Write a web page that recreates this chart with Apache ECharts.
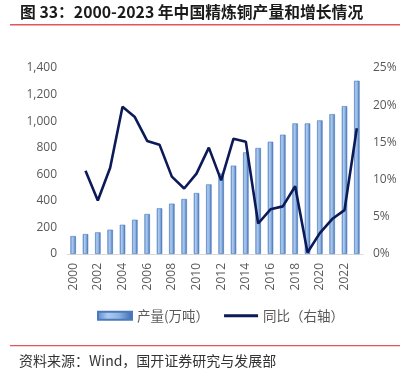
<!DOCTYPE html>
<html>
<head>
<meta charset="utf-8">
<script src="https://cdn.jsdelivr.net/npm/echarts@6/dist/echarts.min.js"></script>
<style>html,body{margin:0;padding:0;background:#fff}#c{width:406px;height:369px}</style>
</head>
<body>
<div id="c"></div>
<script>
const years = ['2000','2001','2002','2003','2004','2005','2006','2007','2008','2009','2010','2011','2012','2013','2014','2015','2016','2017','2018','2019','2020','2021','2022','2023'];
const output = [135,150,163,183,220,258,301,344,379,414,459,524,606,665,765,798,845,898,983,983,1006,1053,1113,1304];
const yoy = [null,11.2,7.2,11.6,19.8,18.4,15.2,14.7,10.4,8.8,10.8,14.3,9.9,15.5,15.1,4.1,6.0,6.4,9.1,0.2,2.8,4.7,5.9,16.9];
const leftTicks = {min:0, max:1400, interval:200};
const rightTicks = {min:0, max:25, interval:5};
const titleText = '图 33：2000-2023 年中国精炼铜产量和增长情况';
const sourceText = '资料来源：Wind，国开证券研究与发展部';
const seriesNames = ['产量(万吨）','同比（右轴）'];

const chart = echarts.init(document.getElementById('c'), null, {renderer:'canvas'});
const barGrad = new echarts.graphic.LinearGradient(0,0,1,0,[
  {offset:0,color:'#5a88c8'},
  {offset:0.3,color:'#aecbee'},
  {offset:0.6,color:'#90b4e2'},
  {offset:1,color:'#3a68ae'}
]);
const axisLabelStyle = {color:'#595959', fontSize:12, fontFamily:'Open Sans'};
chart.setOption({
  animation:false,
  grid:{left:67, right:43, top:68, bottom:115},
  legend:{
    top:304, left:92, itemGap:15,
    itemWidth:34, itemHeight:8,
    textStyle:{color:'#595959', fontSize:13.5, fontFamily:'Noto Sans CJK SC'},
    data:[
      {name:seriesNames[0], icon:'rect'},
      {name:seriesNames[1], icon:'path://M0,0H1V0Z M0,2.6H34V5.4H0Z M0,8H1V8Z', itemStyle:{color:'#0c1a58'}}
    ]
  },
  xAxis:{
    type:'category', data:years,
    axisLine:{lineStyle:{color:'#d9d9d9'}},
    axisTick:{show:false},
    axisLabel:Object.assign({rotate:90, interval:1, margin:9}, axisLabelStyle)
  },
  yAxis:[
    {type:'value', min:leftTicks.min, max:leftTicks.max, interval:leftTicks.interval,
     splitLine:{show:false}, axisLine:{show:false}, axisTick:{show:false},
     axisLabel:Object.assign({margin:10, formatter:v=>v.toLocaleString('en-US')}, axisLabelStyle)},
    {type:'value', min:rightTicks.min, max:rightTicks.max, interval:rightTicks.interval,
     splitLine:{show:false}, axisLine:{show:false}, axisTick:{show:false},
     axisLabel:Object.assign({margin:10, formatter:'{value}%'}, axisLabelStyle)}
  ],
  series:[
    {name:seriesNames[0], type:'bar', data:output, barWidth:5.5,
     itemStyle:{color:barGrad, borderColor:'#4a7abd', borderWidth:0.6}},
    {name:seriesNames[1], type:'line', yAxisIndex:1, data:yoy, symbol:'none',
     lineStyle:{color:'#0c1a58', width:2.6}, itemStyle:{color:'#0c1a58'}}
  ],
  graphic:[
    {type:'text', left:20, top:4, style:{text:titleText, fill:'#1a1a1a', font:'bold 15.8px "Noto Sans CJK SC"'}},
    {type:'rect', shape:{x:10, y:24, width:390, height:1.5}, style:{fill:'#e0575b'}},
    {type:'rect', shape:{x:10, y:345, width:390, height:1.2}, style:{fill:'#e0575b'}},
    {type:'text', left:19, top:354, style:{text:sourceText, fill:'#333', font:'14px "Noto Sans CJK SC"'}}
  ]
});
</script>
</body>
</html>
